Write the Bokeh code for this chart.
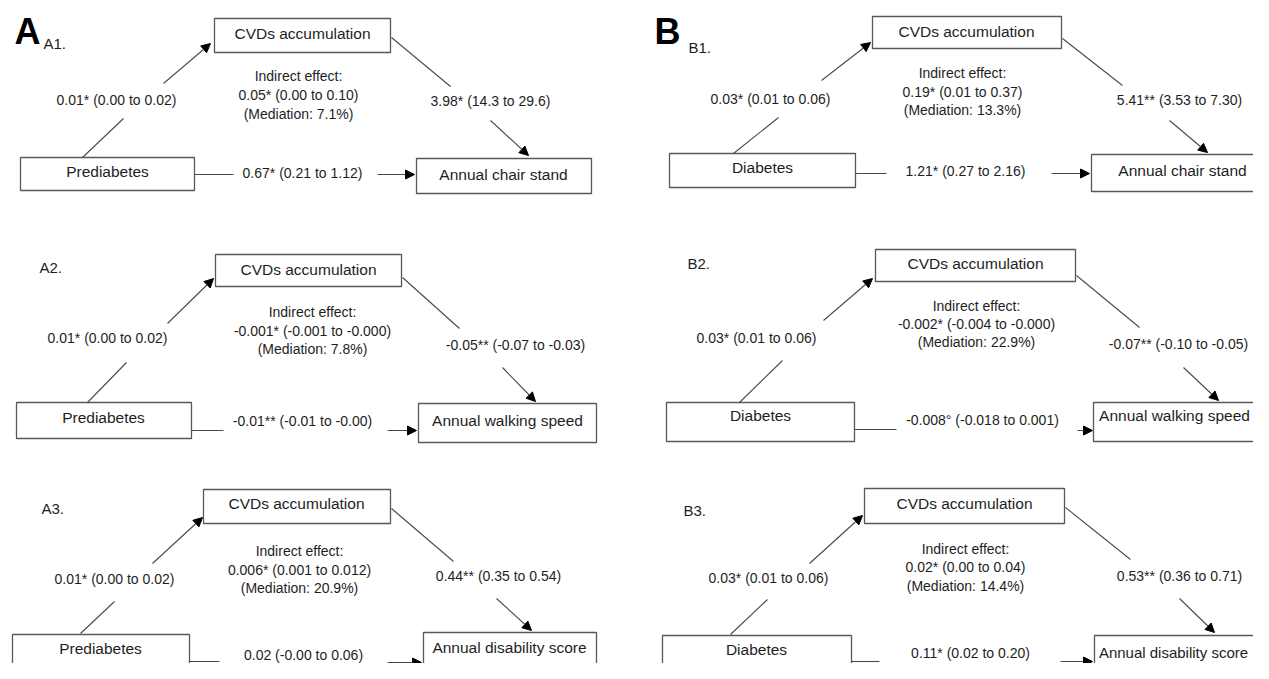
from bokeh.plotting import figure
from bokeh.models import Range1d, ColumnDataSource, Arrow, NormalHead
from bokeh.core.properties import value
from bokeh.embed import file_html
from bokeh.resources import INLINE

# ---------------- data ----------------
group_letters = ["A", "B"]
panel_ids = ["A1.", "A2.", "A3.", "B1.", "B2.", "B3."]
exposures = ["Prediabetes", "Prediabetes", "Prediabetes", "Diabetes", "Diabetes", "Diabetes"]
mediator = "CVDs accumulation"
outcomes = ["Annual chair stand", "Annual walking speed", "Annual disability score",
            "Annual chair stand", "Annual walking speed", "Annual disability score"]
a_path = ["0.01* (0.00 to 0.02)", "0.01* (0.00 to 0.02)", "0.01* (0.00 to 0.02)",
          "0.03* (0.01 to 0.06)", "0.03* (0.01 to 0.06)", "0.03* (0.01 to 0.06)"]
b_path = ["3.98* (14.3 to 29.6)", "-0.05** (-0.07 to -0.03)", "0.44** (0.35 to 0.54)",
          "5.41** (3.53 to 7.30)", "-0.07** (-0.10 to -0.05)", "0.53** (0.36 to 0.71)"]
c_path = ["0.67* (0.21 to 1.12)", "-0.01** (-0.01 to -0.00)", "0.02 (-0.00 to 0.06)",
          "1.21* (0.27 to 2.16)", "-0.008\u00b0 (-0.018 to 0.001)", "0.11* (0.02 to 0.20)"]
indirect = ["0.05* (0.00 to 0.10)", "-0.001* (-0.001 to -0.000)", "0.006* (0.001 to 0.012)",
            "0.19* (0.01 to 0.37)", "-0.002* (-0.004 to -0.000)", "0.02* (0.00 to 0.04)"]
mediation = ["7.1%", "7.8%", "20.9%", "13.3%", "22.9%", "14.4%"]

# ---------------- layout (pixel positions in the picture) ----------------
layout = [
    dict(tag=(43, 43), M=(214, 18, 390, 52, 302, 33), X=(20, 157, 194, 190, 107, 171),
         Y=(416, 158, 591, 193, 503, 174, 15.5), a_lab=(116, 99), a_ln=(82, 157, 123, 118),
         a_ar=(163, 83, 210, 43), b_ln=(391, 37, 450, 86), b_lab=(490, 100),
         b_ar=(490, 120, 528, 155), c_ln=(194, 174, 233, 174), c_lab=(302, 172),
         c_ar=(377, 174, 414, 174), ind=(298, 75, 94, 113)),
    dict(tag=(39, 267), M=(215, 254, 401, 286, 308, 269), X=(16, 402, 191, 438, 103, 417),
         Y=(418, 403, 596, 442, 507, 420, 15.5), a_lab=(107, 337), a_ln=(87, 402, 126, 362),
         a_ar=(167, 323, 213, 278), b_ln=(402, 277, 459, 328), b_lab=(515, 344),
         b_ar=(502, 367, 535, 401), c_ln=(191, 430, 223, 430), c_lab=(302, 420),
         c_ar=(387, 430, 416, 430), ind=(312, 311, 330, 348)),
    dict(tag=(41, 508), M=(203, 489, 390, 523, 296, 503), X=(12, 634, 189, 690, 100, 648),
         Y=(423, 632, 596, 690, 509, 647, 15.5), a_lab=(114, 578), a_ln=(80, 633, 114, 601),
         a_ar=(152, 563, 202, 517), b_ln=(391, 508, 453, 561), b_lab=(498, 575),
         b_ar=(496, 598, 531, 630), c_ln=(189, 661, 219, 661), c_lab=(303, 654),
         c_ar=(387, 662, 421, 662), ind=(299, 550, 569, 587)),
    dict(tag=(688, 47), M=(872, 16, 1061, 48, 966, 31), X=(669, 153, 855, 187, 762, 167),
         Y=(1091, 154, 1280, 191, 1182, 170, 15.5), a_lab=(770, 98), a_ln=(733, 153, 778, 117),
         a_ar=(821, 80, 870, 42), b_ln=(1062, 38, 1122, 85), b_lab=(1179, 99),
         b_ar=(1169, 120, 1207, 152), c_ln=(855, 173, 886, 173), c_lab=(965, 170),
         c_ar=(1051, 173, 1089, 173), ind=(962, 72, 91, 109)),
    dict(tag=(687, 263), M=(875, 249, 1075, 281, 975, 263), X=(666, 402, 854, 441, 760, 415),
         Y=(1093, 402, 1280, 441, 1174, 415, 15.5), a_lab=(756, 337), a_ln=(739, 402, 782, 360),
         a_ar=(823, 320, 872, 278), b_ln=(1076, 275, 1139, 327), b_lab=(1178, 343),
         b_ar=(1183, 367, 1218, 400), c_ln=(854, 429, 896, 429), c_lab=(982, 419),
         c_ar=(1077, 430, 1092, 430), ind=(976, 305, 323, 341)),
    dict(tag=(683, 510), M=(864, 488, 1064, 523, 964, 503), X=(662, 635, 851, 690, 756, 649),
         Y=(1094, 635, 1280, 690, 1173, 652, 15), a_lab=(768, 577), a_ln=(730, 634, 767, 599),
         a_ar=(809, 563, 862, 515), b_ln=(1065, 507, 1130, 559), b_lab=(1179, 575),
         b_ar=(1179, 598, 1214, 632), c_ln=(851, 661, 879, 661), c_lab=(970, 652),
         c_ar=(1060, 661, 1092, 661), ind=(965, 548, 566, 585)),
]
letter_pos = [(14, 31), (654, 31)]

FONT = value("Liberation Sans")
TXT = "#1e1e1e"
LINE = "#4a4a4a"

p = figure(width=1253, height=663, x_range=Range1d(0, 1253), y_range=Range1d(663, 0),
           output_backend="svg", toolbar_location=None, min_border=0)
p.axis.visible = False
p.grid.visible = False
p.outline_line_color = None
p.background_fill_color = "white"

# boxes
bl, br, bt, bb = [], [], [], []
btx, bty, btt, bts = [], [], [], []
for i, L in enumerate(layout):
    for key, label in (("M", mediator), ("X", exposures[i]), ("Y", outcomes[i])):
        g = L[key]
        x0, y0, x1, y1, tx, ty = g[:6]
        fs = g[6] if len(g) > 6 else 15.5
        bl.append(x0); br.append(x1); bt.append(y0); bb.append(y1)
        btx.append(tx); bty.append(ty); btt.append(label); bts.append("%gpx" % fs)
p.quad(left=bl, right=br, top=bt, bottom=bb, fill_color="white",
       line_color="#585858", line_width=1.3)
bsrc = ColumnDataSource(dict(x=btx, y=bty, t=btt, fs=bts))
p.text(x="x", y="y", text="t", source=bsrc, text_align="center", text_baseline="middle",
       text_font=FONT, text_font_size="fs", text_color=TXT)

# plain lines
lx0, ly0, lx1, ly1 = [], [], [], []
for L in layout:
    for key in ("a_ln", "b_ln", "c_ln"):
        x0, y0, x1, y1 = L[key]
        lx0.append(x0); ly0.append(y0); lx1.append(x1); ly1.append(y1)
p.segment(x0=lx0, y0=ly0, x1=lx1, y1=ly1, line_color=LINE, line_width=1.1)

# arrows
ax0, ay0, ax1, ay1 = [], [], [], []
for L in layout:
    for key in ("a_ar", "b_ar", "c_ar"):
        x0, y0, x1, y1 = L[key]
        ax0.append(x0); ay0.append(y0); ax1.append(x1); ay1.append(y1)
asrc = ColumnDataSource(dict(x0=ax0, y0=ay0, x1=ax1, y1=ay1))
p.add_layout(Arrow(end=NormalHead(size=9, fill_color="black", line_color="black", line_width=1),
                   x_start="x0", y_start="y0", x_end="x1", y_end="y1", source=asrc,
                   line_color=LINE, line_width=1.1))

# path labels
tx, ty, tt = [], [], []
for i, L in enumerate(layout):
    for key, label in (("a_lab", a_path[i]), ("b_lab", b_path[i]), ("c_lab", c_path[i])):
        tx.append(L[key][0]); ty.append(L[key][1]); tt.append(label)
    cx, y1, y2, y3 = L["ind"]
    tx += [cx, cx, cx]; ty += [y1, y2, y3]
    tt += ["Indirect effect:", indirect[i], "(Mediation: " + mediation[i] + ")"]
p.text(x=tx, y=ty, text=tt, text_align="center", text_baseline="middle",
       text_font=FONT, text_font_size="14px", text_color=TXT)

# panel tags
p.text(x=[L["tag"][0] for L in layout], y=[L["tag"][1] for L in layout], text=panel_ids,
       text_align="left", text_baseline="middle", text_font=FONT,
       text_font_size="15px", text_color=TXT)
p.text(x=[q[0] for q in letter_pos], y=[q[1] for q in letter_pos], text=group_letters,
       text_align="left", text_baseline="middle", text_font=FONT,
       text_font_size="36px", text_font_style="bold", text_color="black")

open("out.html", "w").write(file_html(p, INLINE))
